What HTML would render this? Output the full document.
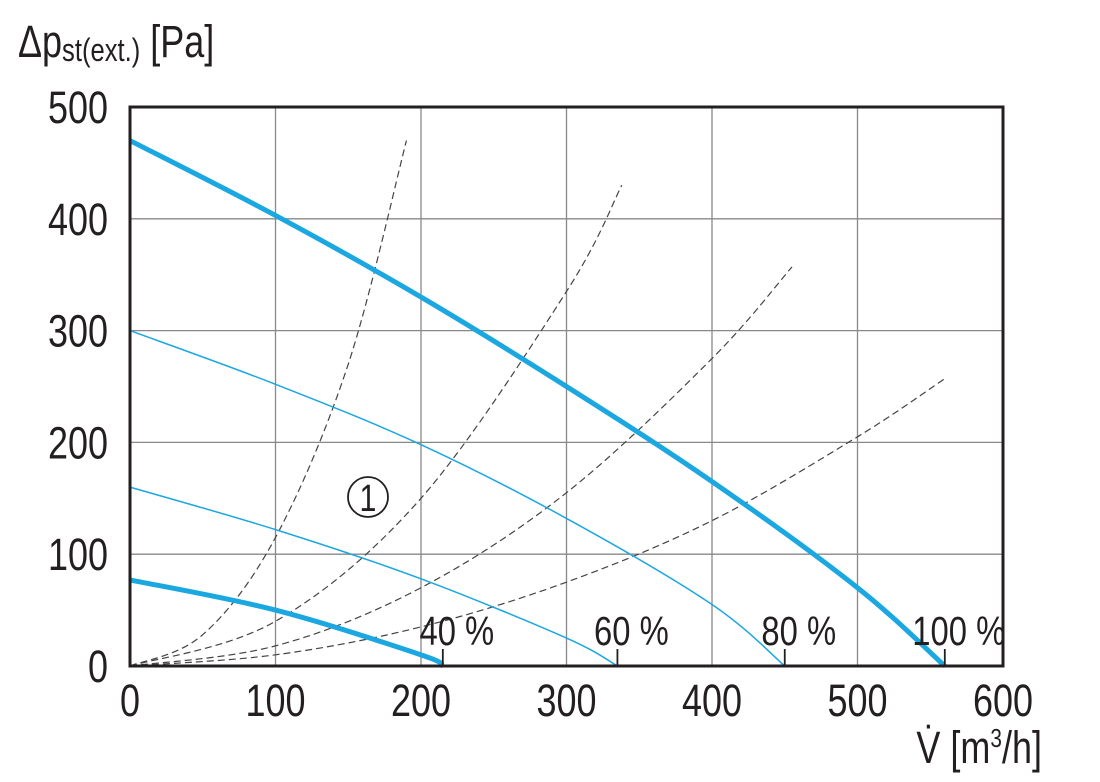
<!DOCTYPE html>
<html><head><meta charset="utf-8"><style>
body{margin:0;background:#fff;}
svg text{font-family:"Liberation Sans",sans-serif;fill:#231f20;}
</style></head><body>
<svg id="chart" width="1100" height="777" xmlns="http://www.w3.org/2000/svg">
<g id="grid"></g>
<g id="curves"></g>
<g id="labels"></g>
<rect x="130" y="107" width="873" height="559" fill="none" stroke="#231f20" stroke-width="3"/>
<text x="18" y="57" font-size="45" transform="translate(18,0) scale(0.8,1) translate(-18,0)">Δp<tspan font-size="32" dy="4">st(ext.)</tspan><tspan dy="-4"> [Pa]</tspan></text>
<text x="1042" y="763" font-size="45" text-anchor="end" transform="translate(1042,0) scale(0.8,1) translate(-1042,0)">V̇ [m<tspan font-size="26" dy="-16">3</tspan><tspan dy="16">/h]</tspan></text>
<g>
<circle cx="368" cy="497" r="20" fill="none" stroke="#231f20" stroke-width="1.8"/>
<text x="368" y="511" font-size="38" text-anchor="middle" transform="translate(368,0) scale(0.8,1) translate(-368,0)">1</text>
</g>
</svg>
<script>
const xTicks=[0,100,200,300,400,500,600];
const yTicks=[0,100,200,300,400,500];
const curve100=[[0,470],[100,403],[200,330],[300,250],[400,165],[500,70],[560,0]];
const curve80=[[0,300],[100,252],[200,198],[300,132],[400,55],[450,0]];
const curve60=[[0,160],[100,122],[200,78],[300,25],[335,0]];
const curve40=[[0,77],[100,50],[200,10],[215,0]];
const systemA=[[0,0],[50,28],[100,115],[150,270],[190,470]];
const systemB=[[0,0],[100,40],[200,150],[300,335],[338,430]];
const systemC=[[0,0],[100,18],[200,70],[300,155],[400,275],[455,357]];
const systemD=[[0,0],[100,10],[200,35],[300,75],[400,130],[500,205],[560,257]];
const speedLabels=["40 %","60 %","80 %","100 %"];
const speedEnds=[215,335,450,560];

const NS="http://www.w3.org/2000/svg";
const X=v=>130+v*873/600, Y=v=>666-v*559/500;
function mk(tag,attrs,parent){const e=document.createElementNS(NS,tag);for(const k in attrs)e.setAttribute(k,attrs[k]);parent.appendChild(e);return e;}
function smooth(pts){const p=pts.map(d=>[X(d[0]),Y(d[1])]);let s=`M${p[0][0]},${p[0][1]}`;
 for(let i=0;i<p.length-1;i++){const p0=p[i-1]||p[i],p1=p[i],p2=p[i+1],p3=p[i+2]||p2;
 s+=` C${p1[0]+(p2[0]-p0[0])/6},${p1[1]+(p2[1]-p0[1])/6} ${p2[0]-(p3[0]-p1[0])/6},${p2[1]-(p3[1]-p1[1])/6} ${p2[0]},${p2[1]}`;}return s;}
const grid=document.getElementById('grid'),curves=document.getElementById('curves'),labels=document.getElementById('labels');
xTicks.forEach(t=>{const l=mk('line',{x1:X(t),x2:X(t),y1:107,y2:666,stroke:'#888','stroke-width':1.3},grid);
 
 
 const tx=mk('text',{x:X(t),y:716,'font-size':45,'text-anchor':'middle',transform:`translate(${X(t)},0) scale(0.8,1) translate(${-X(t)},0)`},labels);tx.textContent=t;
 
 });
yTicks.forEach(t=>{const l=mk('line',{x1:130,x2:1003,y1:Y(t),y2:Y(t),stroke:'#888','stroke-width':1.3},grid);
 
 
 const tx=mk('text',{x:108,y:Y(t)+16,'font-size':45,'text-anchor':'end',transform:`translate(108,0) scale(0.8,1) translate(-108,0)`},labels);tx.textContent=t;
 
 });
[systemA,systemB,systemC,systemD].forEach(s=>{const p=mk('path',{d:smooth(s),fill:'none',stroke:'#444','stroke-width':1.2,'stroke-dasharray':'7,4'},curves);
 
 });
[[curve40,5],[curve60,1.5],[curve80,1.5],[curve100,5]].forEach(([c,w],i)=>{const p=mk('path',{d:smooth(c),fill:'none',stroke:'#1ba7e0','stroke-width':w},curves);
 
 });
speedEnds.forEach((v,i)=>{const t=mk('line',{x1:X(v),x2:X(v),y1:666,y2:649,stroke:'#231f20','stroke-width':1.8},labels);
 
 
 const tx=mk('text',{x:X(v)+14,y:645,'font-size':41,'text-anchor':'middle',transform:`translate(${X(v)+14},0) scale(0.8,1) translate(${-X(v)-14},0)`},labels);tx.textContent=speedLabels[i];
 
 });
</script>
</body></html>
